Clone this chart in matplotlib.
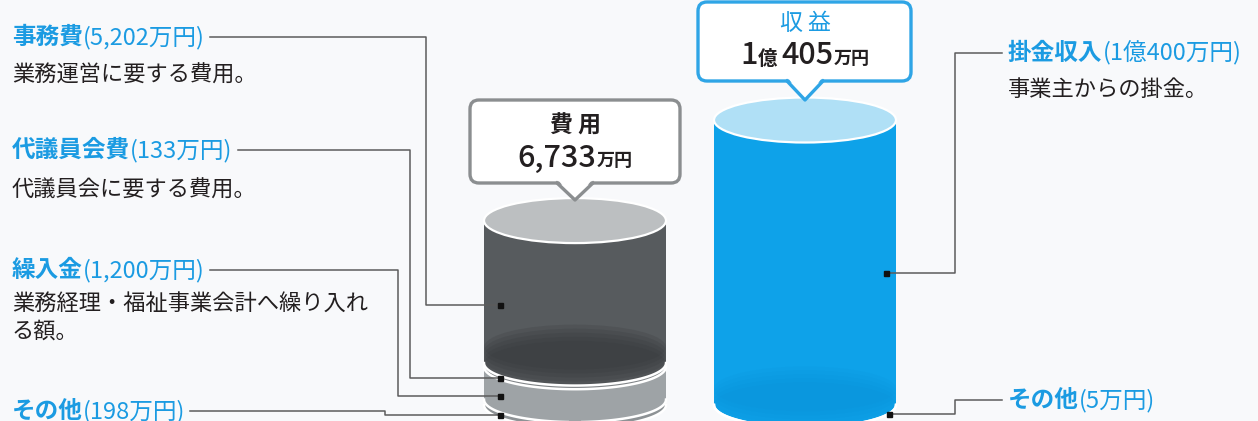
import numpy as np
import matplotlib.pyplot as plt
from matplotlib.patches import Ellipse, Polygon, FancyBboxPatch
from matplotlib.offsetbox import TextArea, HPacker, AnnotationBbox

plt.rcParams['font.family'] = ['Noto Sans CJK JP', 'DejaVu Sans']

# amounts in 万円
cost_items = ['事務費', '代議員会費', '繰入金', 'その他']
cost_values = [5202, 133, 1200, 198]
cost_notes = ['業務運営に要する費用。', '代議員会に要する費用。',
              '業務経理・福祉事業会計へ繰り入れ\nる額。', '']
income_items = ['掛金収入', 'その他']
income_values = [10400, 5]
income_notes = ['事業主からの掛金。', '']

BLUE = '#1b9be2'
INK = '#231f20'
BG = '#f8f9fb'
LINE = '#5c5c5c'

fig = plt.figure(figsize=(12.58, 4.21), dpi=100, facecolor=BG)
ax = fig.add_axes([0, 0, 1, 1])
ax.set_xlim(0, 1258)
ax.set_ylim(421, 0)
ax.axis('off')
ax.set_facecolor(BG)

base = 405          # centre line of the cylinder floors
scale = 0.02739     # px per 万円
rx, ry = 91, 22.5


def amount(v, gap=''):
    oku, man = divmod(v, 10000)
    if oku:
        return f'{oku}億{gap}{man:,}万円'
    return f'{man:,}万円'


def cylinder(cx, values, colors, top_color, floor_color, floor_alpha):
    """values from bottom to top; returns (top, bottom) centre y per segment"""
    vals = np.array(values, dtype=float)
    tops = base - np.cumsum(vals) * scale
    bots = tops + vals * scale
    t = np.linspace(0, np.pi, 80)
    bodies = []
    for top, bot, col in zip(tops, bots, colors):
        xs = np.concatenate([[cx - rx, cx + rx], cx + rx * np.cos(t)])
        ys = np.concatenate([[top, top], bot + ry * np.sin(t)])
        body = Polygon(np.column_stack([xs, ys]), closed=True, fc=col, ec='none', zorder=2)
        ax.add_patch(body)
        bodies.append(body)
    # darker floor seen through the top segment
    for i in range(5):
        e = Ellipse((cx, bots[-1] - i * 4), 2 * rx, 2 * ry, fc=floor_color,
                    ec='none', alpha=floor_alpha, zorder=3)
        ax.add_patch(e)
        e.set_clip_path(bodies[-1])
    # white rims between segments
    for bot in bots:
        ax.plot(cx + rx * np.cos(t), bot + ry * np.sin(t), color='white', lw=1.8, zorder=4)
    ax.add_patch(Ellipse((cx, tops[-1]), 2 * rx, 2 * ry, fc=top_color, ec='white',
                         lw=1.6, zorder=5))
    return tops, bots


def front_y(cx, x, top, bot):
    off = ry * np.sqrt(max(0.0, 1 - ((x - cx) / rx) ** 2))
    return (top + bot) / 2 + off


def callout(x0, x1, y0, y1, tip_x, tip_y, edge):
    ax.add_patch(FancyBboxPatch((x0, y0), x1 - x0, y1 - y0,
                                boxstyle='round,pad=0,rounding_size=9',
                                fc='white', ec=edge, lw=2.4, zorder=6))
    hw = 17
    ax.add_patch(Polygon([(tip_x - hw, y1 - 3), (tip_x + hw, y1 - 3), (tip_x, tip_y)],
                         closed=True, fc='white', ec='none', zorder=7))
    ax.plot([tip_x - hw - 1, tip_x, tip_x + hw + 1], [y1, tip_y, y1], color=edge,
            lw=2.4, solid_joinstyle='round', zorder=7)


def packed(x, y, pieces, align=(0.5, 0.5)):
    boxes = [TextArea(s, textprops=dict(fontsize=fs, fontweight=fw, color=c))
             for s, fs, fw, c in pieces]
    pack = HPacker(children=boxes, align='baseline', pad=0, sep=0)
    ab = AnnotationBbox(pack, (x, y), xycoords='data', box_alignment=align,
                        frameon=False, pad=0, zorder=8)
    ax.add_artist(ab)
    return ab


def leader(points, marker):
    xs, ys = zip(*points, marker)
    ax.plot(xs, ys, color=LINE, lw=1.1, zorder=9)
    ax.plot(*marker, marker='s', ms=3.6, color='#111111', zorder=10)


# cost cylinder (stacked bottom to top)
cost_cx = 575
c_tops, c_bots = cylinder(cost_cx, cost_values[::-1],
                          ['#8d9295', '#9ea3a6', '#7f8386', '#575b5e'],
                          '#bcbfc1', '#34373a', 0.2)
c_tops, c_bots = c_tops[::-1], c_bots[::-1]

# income cylinder
inc_cx = 805
i_tops, i_bots = cylinder(inc_cx, income_values[::-1],
                          ['#8fd5f5', '#0ea2e9'], '#b0e0f6', '#0a8fd6', 0.12)
i_tops, i_bots = i_tops[::-1], i_bots[::-1]

# callout boxes
callout(470, 680, 100, 183, cost_cx, 200, '#8b8e90')
packed(cost_cx, 126, [('費 用', 16.5, 'bold', INK)])
packed(cost_cx, 158, [(f'{sum(cost_values):,}', 22, 'medium', INK),
                      ('万円', 13, 'bold', INK)])

callout(698, 911, 2, 81, inc_cx, 100, '#2fa5e6')
oku, man = divmod(sum(income_values), 10000)
packed(inc_cx, 23, [('収 益', 16.5, 'normal', BLUE)])
packed(inc_cx, 56, [(str(oku), 22, 'medium', INK), ('億 ', 14, 'bold', INK),
                    (f'{man:,}', 22, 'medium', INK), ('万円', 13, 'bold', INK)])

# cost labels on the left
label_y = [37, 150, 270, 411]
note_y = [75, 190, 317, None]
elbow_x = [426, 410, 398, 385]
cost_labels = []
for name, v, note, ly, ny in zip(cost_items, cost_values, cost_notes, label_y, note_y):
    cost_labels.append(packed(12, ly, [(name, 17, 'bold', BLUE),
                                       (f'({amount(v)})', 17, 'normal', BLUE)],
                              align=(0, 0.5)))
    if note:
        ax.text(12, ny, note, fontsize=16, color=INK, va='center', ha='left',
                linespacing=1.25)

# income labels on the right
inc_label_y = [53, 400]
inc_labels = []
for name, v, note, ly in zip(income_items, income_values, income_notes, inc_label_y):
    inc_labels.append(packed(1008, ly, [(name, 17, 'bold', BLUE),
                                        (f'({amount(v)})', 17, 'normal', BLUE)],
                             align=(0, 0.5)))
    if note:
        ax.text(1008, 90, note, fontsize=16, color=INK, va='center', ha='left')

fig.canvas.draw()
renderer = fig.canvas.get_renderer()

mx = 500
for ab, ly, ex, top, bot in zip(cost_labels, label_y, elbow_x, c_tops, c_bots):
    x_end = ab.get_window_extent(renderer).x1 + 5
    my = front_y(cost_cx, mx, top, bot)
    leader([(x_end, ly), (ex, ly), (ex, my)], (mx, my))

for ab, ly, mxi, top, bot in zip(inc_labels, inc_label_y, [886, 889], i_tops, i_bots):
    x_start = ab.get_window_extent(renderer).x0 - 6
    my = front_y(inc_cx, mxi, top, bot)
    leader([(x_start, ly), (955, ly), (955, my)], (mxi, my))

fig.savefig('out.png', dpi=100, facecolor=BG)
